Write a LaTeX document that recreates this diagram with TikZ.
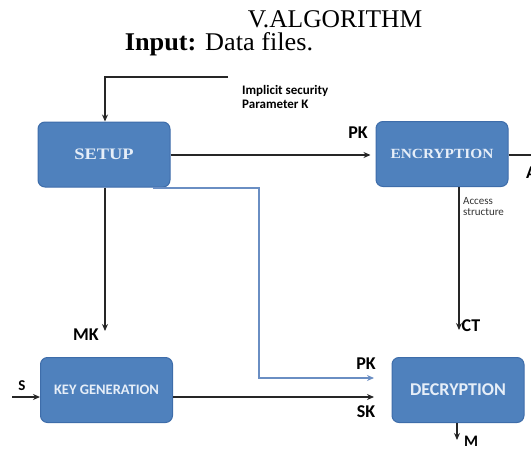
\documentclass[tikz,border=0pt]{standalone}
\usepackage{fontspec}
\setmainfont{Liberation Serif}
\newfontfamily\lblfont{Carlito}
\usetikzlibrary{arrows.meta,calc}
\definecolor{boxblue}{HTML}{4F81BD}
\definecolor{boxedge}{HTML}{3E6DAA}
\definecolor{boxtext}{HTML}{E6EEF8}
\definecolor{pkblue}{HTML}{6A8EC3}
\newcommand{\fs}[1]{\fontsize{#1}{#1}\selectfont}
\begin{document}
\begin{tikzpicture}[x=1pt,y=-1pt,
  block/.style={draw=boxedge, line width=1pt, fill=boxblue, rounded corners=7pt,
    minimum width=132pt, minimum height=65pt, inner sep=0pt, text=boxtext},
  wire/.style={line width=1.8pt, draw=black!85},
  bluewire/.style={line width=1.8pt, draw=pkblue},
  tip/.style={-{Stealth[length=7pt,width=6pt]}},
  lbl/.style={font=\lblfont\bfseries\fs{18}, inner sep=0pt},
  note/.style={font=\lblfont\bfseries\fs{13}, inner sep=0pt, align=left},
  small/.style={font=\lblfont\fs{11}, inner sep=0pt, align=left, text=black!80}]
\useasboundingbox (0,0) rectangle (531,450);
\clip (0,0) rectangle (531,450);

% headings
\node[anchor=base, inner sep=0pt] (title) at (335,27)
  {\fs{25.5}V.ALGORITHM};
\node[anchor=base, inner sep=0pt] (input) at (219,50)
  {\scalebox{1.03}[1]{\fs{25.5}\textbf{Input:} Data files.}};

% the four stages
\node[block] (setup) at (104,154.5) {\scalebox{1.15}[1]{\fs{16}\bfseries SETUP}};
\node[block] (enc) at (442,154) {\scalebox{1.1}[1]{\fs{14}\bfseries ENCRYPTION}};
\node[block] (keygen) at (106.5,390) {\lblfont\bfseries\fs{14.5}KEY GENERATION};
\node[block] (dec) at (458,390) {\lblfont\bfseries\fs{18}DECRYPTION};

% free ends of the connectors
\coordinate (kin) at (228,77);
\coordinate (kcorner) at (105,77);
\coordinate (mkend) at (105,331);
\coordinate (ctend) at (459,330);
\coordinate (mend) at (457,440);
\coordinate (sin) at (12,397);
\coordinate (aout) at (531,155);
\coordinate (pkstart) at (153,188);
\coordinate (pkc1) at (259,188);
\coordinate (pkc2) at (259,378);
\coordinate (pkend) at (374,378);
\coordinate (skend) at (374,397);

% security parameter into SETUP
\draw[wire, line width=1.5pt, tip] (kin) -- (kcorner) -- (kcorner |- setup.north);
\node[note, anchor=north west] (kparam) at (242,85) {Implicit security\\[1pt]Parameter K};

% SETUP -> ENCRYPTION
\draw[wire, tip] (setup.east |- 0,155) -- ($(enc.west |- 0,155)+(-5,0)$);
\node[lbl] (pk1) at (358,133) {PK};

% ENCRYPTION outputs
\draw[wire] (enc.east |- aout) -- (aout);
\node[lbl, anchor=west] (alabel) at (526,173) {A};
\draw[wire, tip] (enc.south -| ctend) -- (ctend);
\node[small, anchor=north west] (acc) at (463,197) {Access\\[0pt]structure};
\node[lbl] (ct) at (471,326) {CT};

% SETUP -> KEY GENERATION
\draw[wire, tip] (setup.south -| mkend) -- (mkend);
\node[lbl] (mk) at (86,335) {MK};

% public key routed to DECRYPTION
\draw[bluewire, tip] (pkstart) -- (pkc1) -- (pkc2) -- (pkend);
\node[lbl] (pk2) at (366,364) {PK};

% KEY GENERATION -> DECRYPTION
\draw[wire, tip] (sin) -- (keygen.west |- sin);
\node[lbl, font=\lblfont\bfseries\fs{15}] (s) at (22,386) {S};
\draw[wire, tip] (keygen.east |- skend) -- (skend);
\node[lbl] (sk) at (366,412) {SK};

% DECRYPTION output
\draw[wire, line width=1.5pt, tip] (dec.south -| mend) -- (mend);
\node[lbl, font=\lblfont\bfseries\fs{16}] (m) at (471,441) {M};
\end{tikzpicture}
\end{document}
